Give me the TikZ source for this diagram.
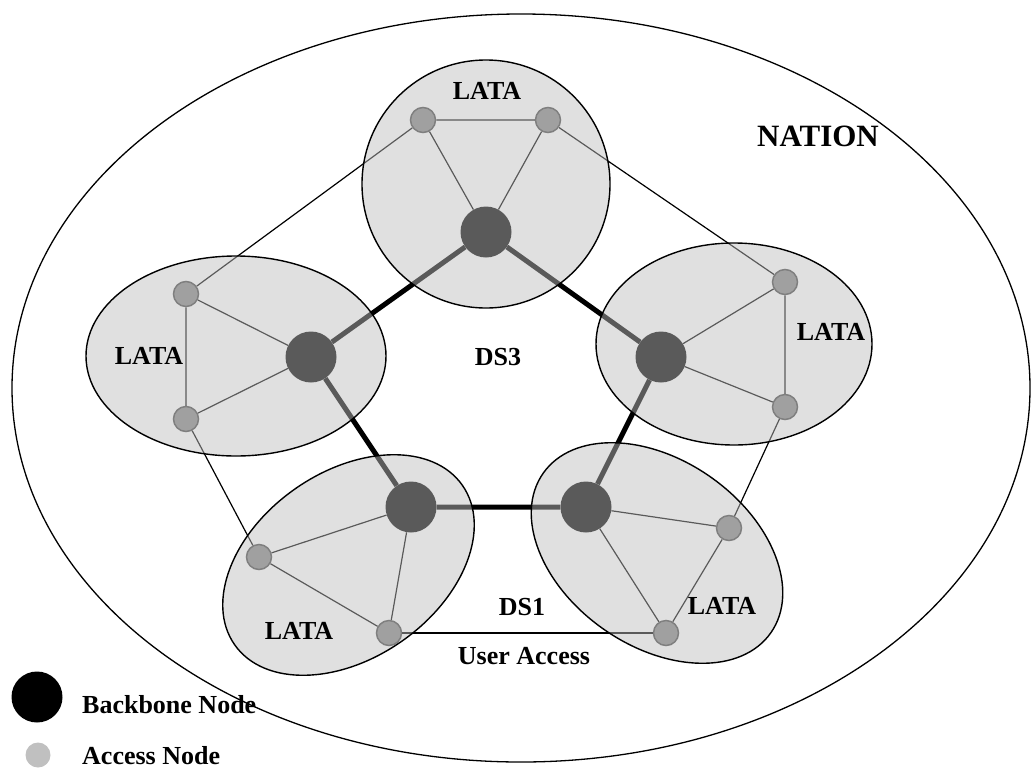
\documentclass[tikz,border=0pt]{standalone}
\usepackage{fontspec}
\setmainfont{Liberation Serif}
\begin{document}
\definecolor{lataFill}{RGB}{190,190,190}
\definecolor{accFill}{RGB}{133,133,133}
\definecolor{accLine}{RGB}{72,72,72}
\definecolor{legAcc}{RGB}{192,192,192}
\begin{tikzpicture}[x=1pt,y=-1pt,
  backbone/.style={circle,fill=black,inner sep=0pt,minimum size=51pt},
  access/.style={circle,fill=accFill,draw=accLine,line width=1.5pt,inner sep=0pt,minimum size=25pt},
  link/.style={line width=1.2pt},
  trunk/.style={line width=5pt},
  lata/.style={draw=black,line width=1.4pt,fill=lataFill,fill opacity=0.475},
  lbl/.style={font=\bfseries\fontsize{26}{30}\selectfont,inner sep=0pt}]
\useasboundingbox (0,0) rectangle (1033,769);

% national boundary
\draw[line width=1.3pt] (521,388) ellipse (509 and 374);

% backbone switches
\node[backbone] (bt) at (486,232) {};
\node[backbone] (bl) at (311,357) {};
\node[backbone] (br) at (661,357) {};
\node[backbone] (bbl) at (411,507) {};
\node[backbone] (bbr) at (586,507) {};

% access switches
\node[access] (t1) at (423,120) {};
\node[access] (t2) at (548,120) {};
\node[access] (l1) at (186,294) {};
\node[access] (l2) at (186,419) {};
\node[access] (r1) at (785,282) {};
\node[access] (r2) at (785,407) {};
\node[access] (p1) at (259,557) {};
\node[access] (p2) at (389,633) {};
\node[access] (q1) at (729,528) {};
\node[access] (q2) at (666,633) {};

% links between neighbouring LATAs
\draw[link] (t1) -- (l1);
\draw[link] (t2) -- (r1);
\draw[link] (l2) -- (p1);
\draw[link] (r2) -- (q1);
\draw[link] (p2) -- (q2);

% links inside each LATA
\draw[link] (t1) -- (t2) (t1) -- (bt) (t2) -- (bt);
\draw[link] (l1) -- (l2) (l1) -- (bl) (l2) -- (bl);
\draw[link] (r1) -- (r2) (r1) -- (br) (r2) -- (br);
\draw[link] (p1) -- (p2) (p1) -- (bbl) (p2) -- (bbl);
\draw[link] (q1) -- (q2) (q1) -- (bbr) (q2) -- (bbr);

% DS3 backbone ring
\draw[trunk] (bt) -- (br) -- (bbr) -- (bbl) -- (bl) -- (bt);

% LATA regions
\draw[lata] (486,184) circle (124);
\draw[lata] (236,356) ellipse (150 and 100);
\draw[lata] (734,344) ellipse (138 and 101);
\draw[lata, rotate around={35:(348.5,565)}] (348.5,565) ellipse (139 and 93);
\draw[lata, rotate around={-35:(657,553)}] (657,553) ellipse (139 and 93);

% labels
\node[lbl] (ltop) at (487,91) {LATA};
\node[lbl] (lleft) at (149,356) {LATA};
\node[lbl] (lright) at (831,332) {LATA};
\node[lbl] (lbl1) at (299,631) {LATA};
\node[lbl] (lbr1) at (722,606) {LATA};
\node[lbl] (ds3) at (498,357) {DS3};
\node[lbl] (ds1) at (522,607) {DS1};
\node[lbl] (ua) at (524,656) {User Access};
\node[lbl,font=\bfseries\fontsize{31}{36}\selectfont] (nation) at (818,136) {NATION};

% legend
\node[circle,fill=black,inner sep=0pt,minimum size=51pt] (kb) at (37,697) {};
\node[circle,fill=legAcc,inner sep=0pt,minimum size=25pt] (ka) at (38,755) {};
\node[lbl,anchor=west] (kbt) at (82,705) {Backbone Node};
\node[lbl,anchor=west] (kat) at (82,756) {Access Node};
\end{tikzpicture}
\end{document}
